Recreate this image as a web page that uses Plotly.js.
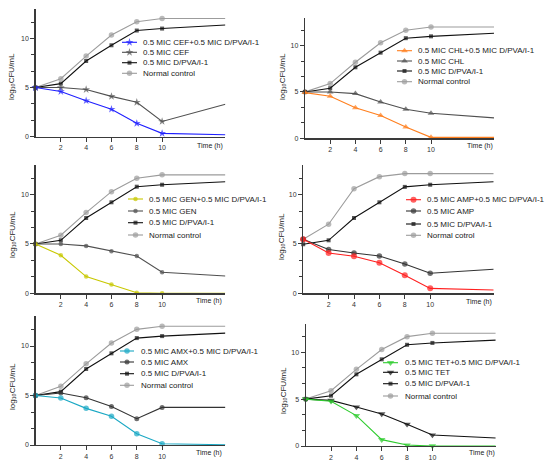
<!DOCTYPE html>
<html><head><meta charset="utf-8">
<script src="https://cdn.plot.ly/plotly-3.0.1.min.js"></script>
<style>body{margin:0;padding:0;background:#fff;}#chart{width:550px;height:469px;}</style>
</head><body><div id="chart"></div>
<script>
// ---------- DATA ----------
const time = [0, 2, 4, 6, 8, 10, 15];

const cefCombo = [5.0, 4.6, 3.66, 2.8, 1.36, 0.34, 0.2];
const cefAlone = [5.0, 5.0, 4.8, 4.1, 3.5, 1.55, 3.3];
const dpva1    = [5.0, 5.4, 7.7, 9.3, 10.8, 11.0, 11.36];
const normal1  = [5.0, 5.9, 8.2, 10.34, 11.7, 12.03, 12.03];

const chlCombo = [4.93, 4.53, 3.3, 2.45, 1.22, 0.1, 0.1];
const chlAlone = [5.0, 5.0, 4.82, 3.92, 3.13, 2.7, 2.2];
const dpva2    = [5.0, 5.4, 7.66, 9.24, 10.8, 11.0, 11.33];
const normal2  = [5.0, 5.9, 8.2, 10.3, 11.65, 12.0, 12.0];

const genCombo = [5.0, 3.85, 1.69, 0.88, 0.05, 0.0, 0.0];
const genAlone = [5.0, 5.0, 4.8, 4.26, 3.78, 2.13, 1.76];
const dpva3    = [5.0, 5.37, 7.63, 9.22, 10.8, 11.0, 11.3];
const normal3  = [5.0, 5.88, 8.18, 10.3, 11.66, 12.0, 12.0];

const ampCombo = [5.47, 4.09, 3.75, 3.1, 1.82, 0.5, 0.34];
const ampAlone = [5.47, 4.43, 4.09, 3.78, 2.97, 2.03, 2.43];
const dpva4    = [4.97, 5.37, 7.63, 9.22, 10.78, 11.0, 11.3];
const normal4  = [5.47, 7.0, 10.6, 11.82, 12.13, 12.13, 12.13];

const amxCombo = [5.0, 4.75, 3.7, 2.9, 1.14, 0.13, 0.03];
const amxAlone = [5.0, 5.25, 4.78, 3.9, 2.66, 3.8, 3.8];
const dpva5    = [5.0, 5.39, 7.68, 9.26, 10.8, 11.0, 11.3];
const normal5  = [5.0, 5.93, 8.2, 10.3, 11.68, 12.0, 12.0];

const tetCombo = [5.0, 4.77, 3.24, 0.68, 0.1, 0.0, 0.0];
const tetAlone = [5.0, 4.87, 4.16, 3.42, 2.31, 1.17, 0.85];
const dpva6    = [5.0, 5.37, 7.65, 9.25, 10.8, 11.0, 11.3];
const normal6  = [5.02, 5.9, 8.18, 10.3, 11.67, 12.03, 12.03];

const labels1 = ["0.5 MIC CEF+0.5 MIC D/PVA/I-1", "0.5 MIC CEF", "0.5 MIC D/PVA/I-1", "Normal control"];
const labels2 = ["0.5 MIC CHL+0.5 MIC D/PVA/I-1", "0.5 MIC CHL", "0.5 MIC D/PVA/I-1", "Normal control"];
const labels3 = ["0.5 MIC GEN+0.5 MIC D/PVA/I-1", "0.5 MIC GEN", "0.5 MIC D/PVA/I-1", "Normal control"];
const labels4 = ["0.5 MIC AMP+0.5 MIC D/PVA/I-1", "0.5 MIC AMP", "0.5 MIC D/PVA/I-1", "Normal cotrol"];
const labels5 = ["0.5 MIC AMX+0.5 MIC D/PVA/I-1", "0.5 MIC AMX", "0.5 MIC D/PVA/I-1", "Normal control"];
const labels6 = ["0.5 MIC TET+0.5 MIC D/PVA/I-1", "0.5 MIC TET", "0.5 MIC D/PVA/I-1", "Normal control"];

const xTickVals = [2, 4, 6, 8, 10];
const yTickVals = [0, 5, 10];
const xTitle = "Time (h)";
const yTitle = "log\u2081\u2080CFU/mL";

// ---------- STYLE / LAYOUT ----------
const W = 550, H = 469;
const FONT = "Liberation Sans, Arial, Helvetica, sans-serif";
const X_MAX = 15, Y_MAX = 13;

const panels = [
  {series: [cefCombo, cefAlone, dpva1, normal1], labels: labels1,
   colors: ["#1f1fff", "#505050", "#111111", "#9c9c9c"],
   symbols: ["star", "star", "square", "circle"], sizes: [6, 6, 4, 5.5],
   frame: {ox: 35.5, sx: 12.66, oy: 136.7, sy: 9.83},
   leg: {s0: 122, s1: 137, tx: 142, rows: [42.3, 52.3, 62.7, 73.3]},
   ytitle: [11, 77], xtitle: [209.5, 145.7]},
  {series: [chlCombo, chlAlone, dpva2, normal2], labels: labels2,
   colors: ["#ff7f1e", "#505050", "#111111", "#9c9c9c"],
   symbols: ["triangle-up", "triangle-up", "square", "circle"], sizes: [6, 6, 4, 5.5],
   frame: {ox: 305, sx: 12.6, oy: 138.3, sy: 9.27},
   leg: {s0: 397, s1: 412, tx: 417, rows: [50.7, 61, 71, 81.7]},
   ytitle: [282, 77], xtitle: [480, 145.7]},
  {series: [genCombo, genAlone, dpva3, normal3], labels: labels3,
   colors: ["#c8c800", "#505050", "#111111", "#9c9c9c"],
   symbols: ["circle", "circle", "square", "circle"], sizes: [4.5, 4.5, 4, 5.5],
   frame: {ox: 35.5, sx: 12.66, oy: 293.3, sy: 9.87},
   leg: {s0: 128, s1: 143, tx: 147.5, rows: [199, 211, 222.7, 235]},
   ytitle: [12, 235], xtitle: [209, 300.7]},
  {series: [ampCombo, ampAlone, dpva4, normal4], labels: labels4,
   colors: ["#ff1f1f", "#333333", "#111111", "#9c9c9c"],
   symbols: ["circle", "circle", "square", "circle"], sizes: [6, 5.5, 4, 5.5],
   frame: {ox: 303.2, sx: 12.7, oy: 293.3, sy: 9.87},
   leg: {s0: 406, s1: 421, tx: 426, rows: [199.7, 211, 224, 235.3]},
   ytitle: [281, 237], xtitle: [479, 301.7]},
  {series: [amxCombo, amxAlone, dpva5, normal5], labels: labels5,
   colors: ["#1aa8c4", "#333333", "#111111", "#9c9c9c"],
   symbols: ["circle", "circle", "square", "circle"], sizes: [5.5, 5, 4, 5.5],
   frame: {ox: 35.5, sx: 12.66, oy: 445, sy: 9.9},
   leg: {s0: 120, s1: 134, tx: 139.5, rows: [351, 362, 373.7, 385.3]},
   ytitle: [12, 387], xtitle: [209, 452.7]},
  {series: [tetCombo, tetAlone, dpva6, normal6], labels: labels6,
   colors: ["#2ecc2e", "#111111", "#111111", "#9c9c9c"],
   symbols: ["triangle-down", "triangle-down", "square", "circle"], sizes: [6.5, 6.5, 4, 5.5],
   frame: {ox: 305.7, sx: 12.67, oy: 446, sy: 9.37},
   leg: {s0: 383, s1: 398, tx: 403.5, rows: [362.7, 372.3, 383.7, 396]},
   ytitle: [283, 391], xtitle: [481.7, 453.3]}
];

const traces = [];
const layout = {
  width: W, height: H, margin: {l: 0, r: 0, t: 0, b: 0},
  paper_bgcolor: "#ffffff", plot_bgcolor: "rgba(0,0,0,0)",
  showlegend: false, font: {family: FONT, color: "#222"},
  annotations: []
};

// overlay pixel axes for legends and titles
const OV = panels.length + 1;
layout["xaxis" + OV] = {domain: [0, 1], range: [0, W], visible: false, fixedrange: true};
layout["yaxis" + OV] = {domain: [0, 1], range: [H, 0], visible: false, fixedrange: true};

panels.forEach((p, k) => {
  const i = k + 1;
  const f = p.frame;
  const xl = f.ox, xr = f.ox + X_MAX * f.sx;
  const yb = f.oy, yt = f.oy - Y_MAX * f.sy;
  const axCommon = {
    showline: true, linecolor: "#3a3a3a", linewidth: 1.2, showgrid: false, zeroline: false,
    ticks: "outside", ticklen: 4, tickwidth: 1, tickcolor: "#3a3a3a",
    tickfont: {family: FONT, size: 7, color: "#333"}, fixedrange: true
  };
  layout["xaxis" + i] = Object.assign({}, axCommon, {
    domain: [xl / W, xr / W], range: [0, X_MAX], anchor: "y" + i,
    tickmode: "array", tickvals: xTickVals
  });
  layout["yaxis" + i] = Object.assign({}, axCommon, {
    domain: [(H - yb) / H, (H - yt) / H], range: [0, Y_MAX], anchor: "x" + i,
    tickmode: "array", tickvals: yTickVals,
    minor: {tickmode: "linear", tick0: 0, dtick: 5 / 3, ticklen: 3, tickwidth: 1, tickcolor: "#3a3a3a", ticks: "outside"}
  });
  // draw order: normal, dpva, alone, combo
  [3, 2, 1, 0].forEach(j => {
    const n = time.length;
    traces.push({
      type: "scatter", mode: "lines+markers", x: time, y: p.series[j],
      xaxis: "x" + i, yaxis: "y" + i, cliponaxis: false, hoverinfo: "skip",
      line: {color: p.colors[j], width: 1.1},
      marker: {symbol: p.symbols[j], color: p.colors[j],
               size: time.map((t, q) => q === n - 1 ? 0 : p.sizes[j]), line: {width: 0}}
    });
  });
  // legend
  p.labels.forEach((lab, j) => {
    const ry = p.leg.rows[j];
    traces.push({
      type: "scatter", mode: "lines+markers",
      x: [p.leg.s0, (p.leg.s0 + p.leg.s1) / 2, p.leg.s1], y: [ry, ry, ry],
      xaxis: "x" + OV, yaxis: "y" + OV, cliponaxis: false, hoverinfo: "skip",
      line: {color: p.colors[j], width: 1.1},
      marker: {symbol: p.symbols[j], color: p.colors[j], size: [0, p.sizes[j], 0], line: {width: 0}}
    });
    layout.annotations.push({
      xref: "x" + OV, yref: "y" + OV, x: p.leg.tx, y: ry, text: lab, showarrow: false,
      xanchor: "left", yanchor: "middle", borderpad: 0,
      font: {family: FONT, size: 8, color: "#222"}
    });
  });
  layout.annotations.push({
    xref: "x" + OV, yref: "y" + OV, x: p.ytitle[0], y: p.ytitle[1], text: yTitle,
    showarrow: false, textangle: -90, xanchor: "center", yanchor: "middle", borderpad: 0,
    font: {family: FONT, size: 8, color: "#222"}
  });
  layout.annotations.push({
    xref: "x" + OV, yref: "y" + OV, x: p.xtitle[0], y: p.xtitle[1], text: xTitle,
    showarrow: false, xanchor: "center", yanchor: "middle", borderpad: 0,
    font: {family: FONT, size: 7, color: "#222"}
  });
});

Plotly.newPlot("chart", traces, layout, {staticPlot: true, displayModeBar: false});
</script>
</body></html>
